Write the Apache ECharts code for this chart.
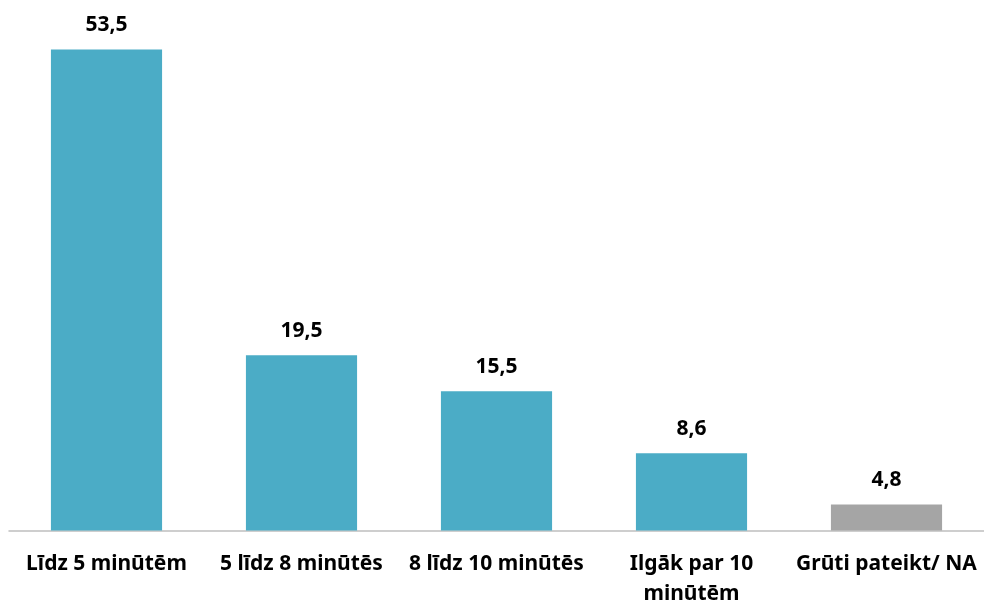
<!DOCTYPE html>
<html><head><meta charset="utf-8">
<script src="https://cdn.jsdelivr.net/npm/echarts@6/dist/echarts.min.js"></script>
<style>html,body{margin:0;padding:0;background:#fff}#c{width:984px;height:604px}</style>
</head><body><div id="c"></div>
<script>
const categories = ['Līdz 5 minūtēm', '5 līdz 8 minūtēs', '8 līdz 10 minūtēs', 'Ilgāk par 10\nminūtēm', 'Grūti pateikt/ NA'];
// bar heights as drawn in the picture
const values = [53.5, 19.5, 15.5, 8.6, 2.9];
// value labels as printed in the picture
const valueLabels = ['53,5', '19,5', '15,5', '8,6', '4,8'];
const colors = ['#4bacc6', '#4bacc6', '#4bacc6', '#4bacc6', '#a5a5a5'];
const FONT = 'Noto Sans';
const chart = echarts.init(document.getElementById('c'));
chart.setOption({
  animation: false,
  grid: {left: 9, right: 0, top: 36, bottom: 73.5, containLabel: false, outerBoundsMode: 'none'},
  xAxis: {
    type: 'category', data: categories,
    axisLine: {lineStyle: {color: '#bfbfbf', width: 1.5}},
    axisTick: {show: false},
    axisLabel: {interval: 0, margin: 19, color: '#000', fontFamily: FONT, fontWeight: 'bold', fontSize: 21, lineHeight: 30}
  },
  yAxis: {type: 'value', min: 0, max: 55, show: false, splitLine: {show: false}},
  series: [{
    type: 'bar', barWidth: '57%',
    data: values.map((v, i) => ({value: v, itemStyle: {color: colors[i]}})),
    label: {show: true, position: 'top', distance: 14, color: '#000', fontFamily: FONT, fontWeight: 'bold', fontSize: 21,
      formatter: p => valueLabels[p.dataIndex]}
  }]
});
</script></body></html>
